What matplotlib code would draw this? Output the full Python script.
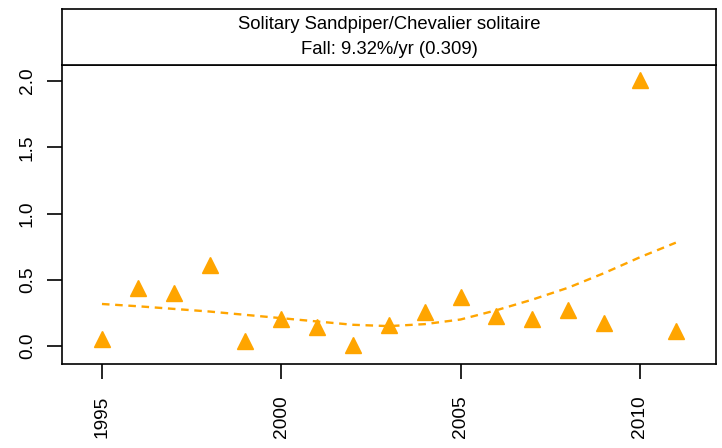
import matplotlib
matplotlib.use("Agg")
import matplotlib.pyplot as plt

plt.rcParams['font.family'] = ['Liberation Sans', 'DejaVu Sans']

years = [1995, 1996, 1997, 1998, 1999, 2000, 2001, 2002, 2003,
         2004, 2005, 2006, 2007, 2008, 2009, 2010, 2011]
counts = [0.05, 0.44, 0.40, 0.61, 0.04, 0.20, 0.14, 0.01, 0.16,
          0.26, 0.37, 0.23, 0.20, 0.27, 0.17, 2.01, 0.11]
trend = [0.317, 0.30, 0.28, 0.26, 0.235, 0.21, 0.185, 0.16, 0.15,
         0.165, 0.20, 0.27, 0.35, 0.44, 0.55, 0.67, 0.78]

title1 = 'Solitary Sandpiper/Chevalier solitaire'
title2 = 'Fall: 9.32%/yr (0.309)'
xticks = [1995, 2000, 2005, 2010]
yticks = [0.0, 0.5, 1.0, 1.5, 2.0]

col = '#FFA500'
W, H = 722, 448
fig = plt.figure(figsize=(W / 100, H / 100), dpi=100)

# main panel
ax = fig.add_axes([62 / W, 1 - 364 / H, (716 - 62) / W, (364 - 65) / H])
ax.plot(years, trend, color=col, lw=1.7, linestyle=(0, (3.2, 2.4)))
ax.plot(years, counts, '^', color=col, ms=11, mec=col, ls='none')
ax.set_xlim(1993.886, 2012.12)
ax.set_ylim(-0.136, 2.121)
ax.set_xticks(xticks)
ax.set_xticklabels([str(t) for t in xticks], rotation=90)
ax.set_yticks(yticks)
ax.set_yticklabels(['%.1f' % t for t in yticks], rotation=90, va='center')
ax.tick_params(direction='out', length=10.8, width=1.2, labelsize=13.8)
ax.tick_params(axis='x', pad=12)
ax.tick_params(axis='y', pad=8)
for s in ax.spines.values():
    s.set_linewidth(1.2)

# title strip
st = fig.add_axes([62 / W, 1 - 65 / H, (716 - 62) / W, (65 - 9) / H])
st.set_xticks([])
st.set_yticks([])
for s in st.spines.values():
    s.set_linewidth(1.2)
st.text(0.5, 0.73, title1, ha='center', va='center', fontsize=13.3, transform=st.transAxes)
st.text(0.5, 0.28, title2, ha='center', va='center', fontsize=13.3, transform=st.transAxes)

fig.savefig('out.png', dpi=100)
